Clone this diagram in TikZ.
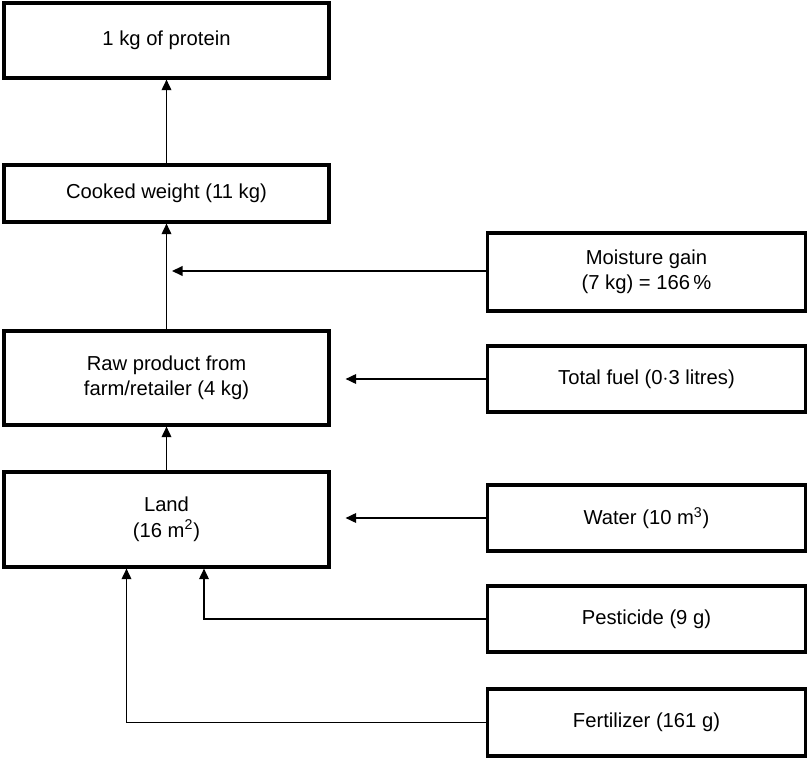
\documentclass[tikz,border=0pt]{standalone}
\usepackage{fontspec}
\setmainfont{Liberation Sans}
\usetikzlibrary{arrows.meta}
\begin{document}
\begin{tikzpicture}[every node/.style={font=\fontsize{11.5}{14.5}\selectfont},
	box/.style={draw, line width=1.8pt, align=center, inner sep=0pt},
	lbox/.style={box, minimum width=6.5cm},
	rbox/.style={box, minimum width=6.35cm},
	flow/.style={-{Triangle[length=6pt,width=5.5pt]}, line width=0.8pt}]
		\useasboundingbox (0,0) rectangle (16.2,-15.22);
		\node[lbox, minimum height=1.5cm] (protein) at (3.33,-0.81) {1 kg of protein};
		\node[lbox, minimum height=1.14cm] (cooked) at (3.33,-3.87) {Cooked weight (11 kg)};
		\node[lbox, minimum height=1.88cm] (raw) at (3.33,-7.56) {Raw product from\\farm/retailer (4 kg)};
		\node[lbox, minimum height=1.9cm] (land) at (3.33,-10.39) {Land\\(16 m\textsuperscript{2})};
		\node[rbox, minimum height=1.56cm] (moist) at (12.93,-5.44) {Moisture gain\\(7 kg) = 166\,\%};
		\node[rbox, minimum height=1.32cm] (fuel) at (12.93,-7.58) {Total fuel (0$\cdot$3 litres)};
		\node[rbox, minimum height=1.32cm] (water) at (12.93,-10.36) {Water (10 m\textsuperscript{3})};
		\node[rbox, minimum height=1.32cm] (pest) at (12.93,-12.38) {Pesticide (9 g)};
		\node[rbox, minimum height=1.34cm] (fert) at (12.93,-14.45) {Fertilizer (161 g)};
		\coordinate (mgain) at (3.44,-5.42);
		\draw[flow] (cooked) -- (protein);
		\draw[flow] (raw) -- (cooked);
		\draw[flow] (land) -- (raw);
		\draw[flow] (moist.west |- mgain) -- (mgain);
		\draw[flow] (fuel.west) -- ([xshift=0.3cm]raw.east |- fuel.west);
		\draw[flow] (water.west) -- ([xshift=0.3cm]land.east |- water.west);
		\draw[flow] (pest.west) -| ([xshift=0.75cm]land.south);
		\draw[flow] (fert.west) -| ([xshift=-0.8cm]land.south);
\end{tikzpicture}
\end{document}
